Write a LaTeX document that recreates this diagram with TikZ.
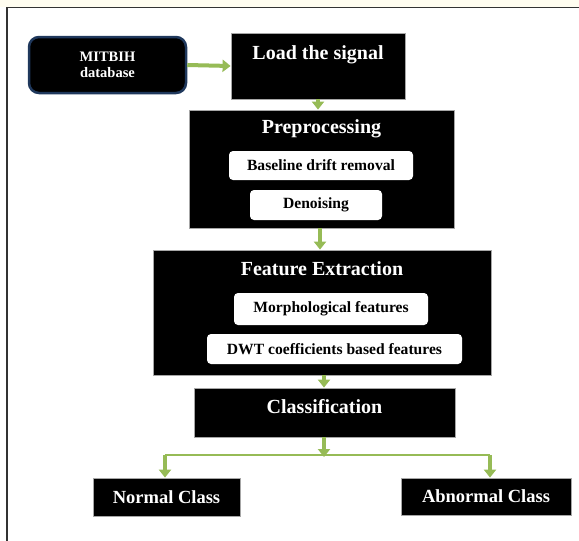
\documentclass[tikz,border=0pt]{standalone}
\usepackage{fontspec}
\setmainfont{Liberation Serif}
\usetikzlibrary{arrows.meta}
\definecolor{agreen}{RGB}{150,187,86}
\definecolor{navyb}{RGB}{31,56,92}
\definecolor{cream}{RGB}{255,253,240}
\tikzset{
  blackbox/.style={draw=gray!70, line width=0.8pt, fill=black, inner sep=0pt, minimum width=#1},
  whitebox/.style={fill=white, rounded corners=4pt, inner sep=0pt, text=black, font=\bfseries\fontsize{15.6}{18}\selectfont},
  title/.style={text=white, font=\bfseries\fontsize{20}{24}\selectfont, inner sep=0pt},
  classbox/.style={text=white, font=\bfseries\fontsize{18.5}{22}\selectfont},
  garrow/.style={draw=agreen, line width=4pt, -{Triangle[width=12pt,length=8pt]}},
  gline/.style={draw=agreen, line width=2pt}
}
\begin{document}
\begin{tikzpicture}[x=1pt,y=-1pt]
\useasboundingbox (0,0) rectangle (579,541);
\fill[white] (0,0) rectangle (579,541);
\fill[cream] (0,0) rectangle (579,6.5);
\draw[black!80, line width=1.6pt] (7,541) -- (7,7.5) -- (579,7.5);

% boxes
\node[draw=navyb, line width=2.5pt, fill=black, rounded corners=10pt, minimum width=157pt, minimum height=56pt, inner sep=0pt,
      text=white, align=center, font=\bfseries\fontsize{14.5}{16}\selectfont] (mit) at (107.5,65) {MITBIH\\database};
\node[blackbox=174pt, minimum height=66pt] (load) at (318,66) {};
\node[title] (loadt) at (318,55) {Load the signal};

\node[blackbox=265pt, minimum height=118pt] (pre) at (321.5,169) {};
\node[title] (pret) at (321.5,129) {Preprocessing};
\node[whitebox, minimum width=184pt, minimum height=29pt] (base) at (321,165.5) {Baseline drift removal};
\node[whitebox, minimum width=132pt, minimum height=30pt] (den) at (316,205) {Denoising};

\node[blackbox=338pt, minimum height=125pt] (feat) at (322,312.5) {};
\node[title] (featt) at (322,269) {Feature Extraction};
\node[whitebox, minimum width=194pt, minimum height=32pt] (morph) at (331,309) {Morphological features};
\node[whitebox, minimum width=255pt, minimum height=30pt] (dwt) at (334.5,349) {DWT coefficients based features};

\node[blackbox=261pt, minimum height=49pt] (cls) at (324.5,412.5) {};
\node[title] (clst) at (324.5,407) {Classification};

\node[blackbox=147pt, minimum height=38pt, classbox] (normal) at (166.5,497) {Normal Class};
\node[blackbox=170pt, minimum height=37pt, classbox] (abn) at (486,496.5) {Abnormal Class};

% connectors
\draw[garrow] (mit.east) -- (load.west);
\draw[garrow] (load.south) -- (load.south |- pre.north);
\coordinate (pf) at (320,228);
\draw[garrow] (pf) -- (pf |- feat.north);
\coordinate (fc) at (324,375);
\draw[garrow] (fc) -- (fc |- cls.north);
\coordinate (split) at (324,457);
\coordinate (sl) at (165,455);
\coordinate (sr) at (490,455);
\draw[gline] (sl) -- (sr);
\draw[garrow] (cls.south -| split) -- (split);
\draw[garrow] (sl) -- (sl |- normal.north);
\draw[garrow] (sr) -- (sr |- abn.north);
\end{tikzpicture}
\end{document}
